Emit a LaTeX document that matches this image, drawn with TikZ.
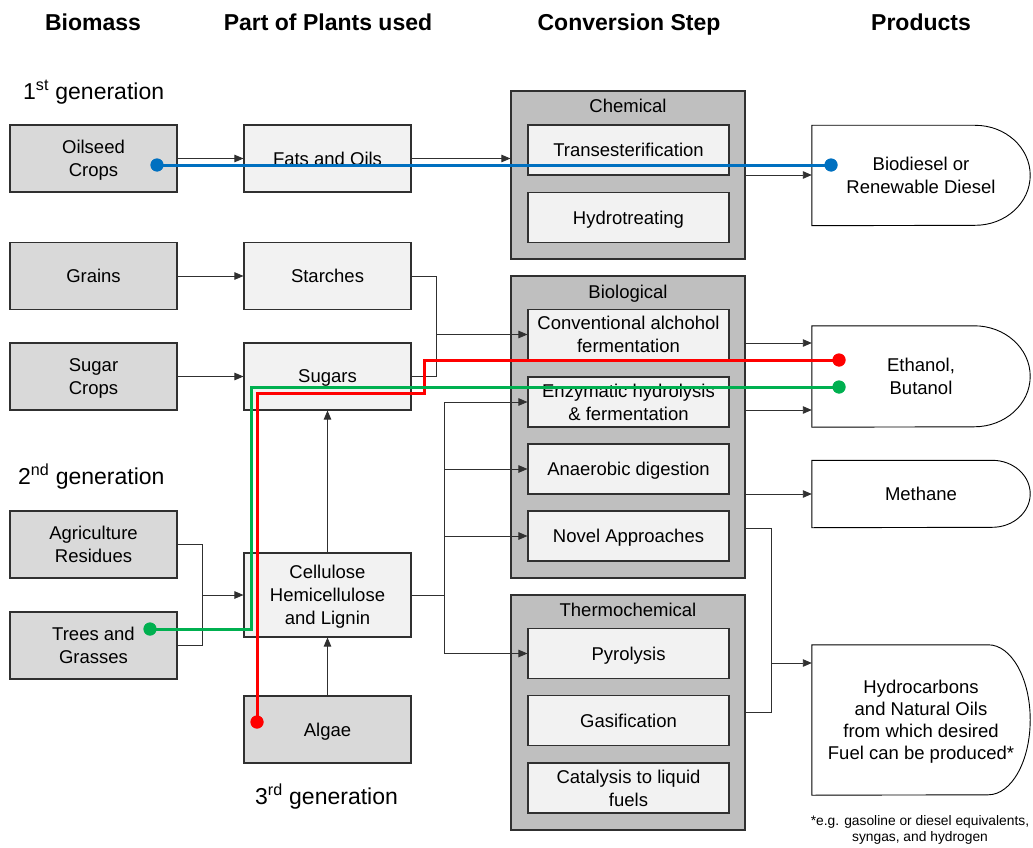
\documentclass[tikz,border=0pt]{standalone}
\usepackage{fontspec}
\setmainfont{Liberation Sans}
\usetikzlibrary{arrows.meta,calc}

\definecolor{bmfill}{HTML}{D9D9D9}
\definecolor{ppfill}{HTML}{F2F2F2}
\definecolor{grpfill}{HTML}{BFBFBF}
\definecolor{edgecol}{HTML}{303030}
\definecolor{wirecol}{HTML}{303030}
\definecolor{pathred}{HTML}{FF0000}
\definecolor{pathgreen}{HTML}{00B050}
\definecolor{pathblue}{HTML}{0070C0}

\newcommand{\boxfont}{\fontsize{18.5}{23}\selectfont}
\newcommand{\headfont}{\fontsize{23}{27}\selectfont\bfseries}
\newcommand{\genfont}{\fontsize{23}{27}\selectfont}
\newcommand{\notefont}{\fontsize{13.8}{16}\selectfont}

\tikzset{
  basebox/.style={draw=edgecol, line width=1.1pt, inner sep=0pt, align=center, font=\boxfont, text depth=0pt},
  biomass/.style={basebox, fill=bmfill, minimum width=167pt, minimum height=67pt},
  plantpart/.style={basebox, fill=ppfill, minimum width=167pt, minimum height=67pt},
  group/.style={draw=edgecol, line width=1.1pt, fill=grpfill, minimum width=234pt, inner sep=0pt},
  stepbox/.style={basebox, fill=ppfill, minimum width=201pt, minimum height=50pt},
  grplabel/.style={font=\boxfont, inner sep=0pt, text depth=0pt},
  heading/.style={font=\headfont, inner sep=0pt, text depth=0pt},
  product/.style={inner sep=0pt, align=center, font=\boxfont, minimum width=218pt, text depth=0pt},
  prodshape/.style={draw=black, line width=0.9pt},
  wire/.style={draw=wirecol, line width=0.9pt},
  conn/.style={wire, -{Triangle[length=9pt,width=7.5pt]}},
  route/.style={line width=3pt},
  dot/.style={circle, fill=#1, minimum size=13pt, inner sep=0pt},
}

\begin{document}
\begin{tikzpicture}[x=1pt, y=-1pt]
\useasboundingbox (0,0) rectangle (1033,848);

% column headings
\node[heading] (hbio)  at (93,22)  {Biomass};
\node[heading] (hpart) at (328,22) {Part of Plants used};
\node[heading] (hconv) at (629,22) {Conversion Step};
\node[heading] (hprod) at (921,22) {Products};

% generation labels
\node[font=\genfont, anchor=west, inner sep=0pt] (gen1) at (23,92)  {1\textsuperscript{st} generation};
\node[font=\genfont, anchor=west, inner sep=0pt] (gen2) at (18,477) {2\textsuperscript{nd} generation};
\node[font=\genfont, anchor=west, inner sep=0pt] (gen3) at (255,797) {3\textsuperscript{rd} generation};

% biomass sources
\node[biomass] (oil)    at (93.5,158.5) {Oilseed\\Crops};
\node[biomass] (grains) at (93.5,276)   {Grains};
\node[biomass] (sugarc) at (93.5,376.5) {Sugar\\Crops};
\node[biomass] (agri)   at (93.5,544.5) {Agriculture\\Residues};
\node[biomass] (trees)  at (93.5,645.5) {Trees and\\Grasses};

% parts of plants
\node[plantpart] (fats)   at (327.5,158.5) {Fats and Oils};
\node[plantpart] (starch) at (327.5,276)   {Starches};
\node[plantpart] (sugars) at (327.5,376.5) {Sugars};
\node[plantpart, minimum height=84pt] (cell) at (327.5,595) {Cellulose\\Hemicellulose\\and Lignin};
\node[biomass]   (algae)  at (327.5,729.5) {Algae};

% conversion groups
\node[group, minimum height=168pt] (chem)   at (628,175)   {};
\node[group, minimum height=302pt] (bio)    at (628,427)   {};
\node[group, minimum height=235pt] (thermo) at (628,712.5) {};
\node[grplabel] (chemlbl)   at (628,106) {Chemical};
\node[grplabel] (biolbl)    at (628,292) {Biological};
\node[grplabel] (thermolbl) at (628,610) {Thermochemical};

% conversion steps
\node[stepbox] (trans) at (628.5,150)   {Transesterification};
\node[stepbox] (hydro) at (628.5,217.5) {Hydrotreating};
\node[stepbox] (conv)  at (628.5,334.5) {Conventional alchohol\\fermentation};
\node[stepbox] (enz)   at (628.5,402)   {Enzymatic hydrolysis\\\& fermentation};
\node[stepbox] (anaer) at (628.5,469)   {Anaerobic digestion};
\node[stepbox] (novel) at (628.5,536)   {Novel Approaches};
\node[stepbox] (pyro)  at (628.5,653.5) {Pyrolysis};
\node[stepbox] (gas)   at (628.5,720.5) {Gasification};
\node[stepbox] (cat)   at (628.5,788)   {Catalysis to liquid\\fuels};

% products
\node[product, minimum height=100pt] (biod)   at (921,175.5) {Biodiesel or\\Renewable Diesel};
\node[product, minimum height=101pt] (eth)    at (921,376.5) {Ethanol,\\Butanol};
\node[product, minimum height=67pt]  (meth)   at (921,494)   {Methane};
\node[product, minimum height=150pt, font={\fontsize{18.5}{22}\selectfont}] (hydroc) at (921,720)
  {Hydrocarbons\\and Natural Oils\\from which desired\\Fuel can be produced*};

\path[prodshape] (biod.north west) -- ($(biod.north east)+(-55,0)$)
  arc[start angle=90, end angle=-90, x radius=55pt, y radius=50pt] -- (biod.south west) -- cycle;
\path[prodshape] (eth.north west) -- ($(eth.north east)+(-56,0)$)
  arc[start angle=90, end angle=-90, x radius=56pt, y radius=50.5pt] -- (eth.south west) -- cycle;
\path[prodshape] (meth.north west) -- ($(meth.north east)+(-38,0)$)
  arc[start angle=90, end angle=-90, x radius=38pt, y radius=33.5pt] -- (meth.south west) -- cycle;
\path[prodshape] (hydroc.north west) -- ($(hydroc.north east)+(-42,0)$)
  arc[start angle=90, end angle=-90, x radius=42pt, y radius=75pt] -- (hydroc.south west) -- cycle;

\node[font=\notefont, align=center, inner sep=0pt] (note) at (920,830)
  {*e.g. gasoline or diesel equivalents,\\syngas, and hydrogen};

% first generation connectors
\draw[conn] (oil.east) -- (fats.west);
\draw[conn] (fats.east) -- (fats.east -| chem.west);
\draw[conn] (chem.east) -- (chem.east -| biod.west);
\draw[conn] (grains.east) -- (starch.west);
\draw[conn] (sugarc.east) -- (sugars.west);

% starches and sugars join into conventional fermentation
\coordinate (jss) at (436,334.5);
\draw[wire] (starch.east) -| (jss);
\draw[wire] (sugars.east) -| (jss);
\draw[conn] (jss) -- (conv.west);

% second and third generation feeds
\coordinate (jat) at (202,595);
\draw[wire] (agri.east) -| (jat);
\draw[wire] (trees.east) -| (jat);
\draw[conn] (jat) -- (cell.west);
\draw[conn] (cell.north) -- (sugars.south);
\draw[conn] (algae.north) -- (cell.south);

% cellulose branches to biological and thermochemical steps
\coordinate (jc) at (444,595);
\draw[wire] (cell.east) -- (jc);
\draw[wire] (jc |- enz.west) -- (jc |- pyro.west);
\draw[conn] (jc |- enz.west) -- (enz.west);
\draw[conn] (jc |- anaer.west) -- (anaer.west);
\draw[conn] (jc |- novel.west) -- (novel.west);
\draw[conn] (jc |- pyro.west) -- (pyro.west);

% outputs of the biological group
\coordinate (e1) at ([yshift=33.5pt]eth.west);
\coordinate (e2) at ([yshift=-33.5pt]eth.west);
\draw[conn] (e1 -| bio.east) -- (e1);
\draw[conn] (e2 -| bio.east) -- (e2);
\draw[conn] (meth.west -| bio.east) -- (meth.west);

% novel approaches and thermochemical to hydrocarbons
\coordinate (ht) at (771,528);
\coordinate (hm) at (771,663);
\draw[wire] (ht -| bio.east) -- (ht) |- (thermo.east);
\draw[conn] (hm) -- (hm -| hydroc.west);

% highlighted routes
\node[dot=pathblue]  (b0) at (157,165) {};
\node[dot=pathblue]  (b1) at (831,165) {};
\node[dot=pathred]   (r0) at (257,722) {};
\node[dot=pathred]   (r1) at (839,360) {};
\node[dot=pathgreen] (g0) at (150,629) {};
\node[dot=pathgreen] (g1) at (839,387) {};
\draw[route, pathblue] (b0.center) -- (b1.center);
\draw[route, pathred] (r0.center) |- (424,393) |- (r1.center);
\draw[route, pathgreen] (g0.center) -| (251,387) -- (g1.center);
\node[dot=pathblue]  at (b0) {};
\node[dot=pathblue]  at (b1) {};
\node[dot=pathred]   at (r0) {};
\node[dot=pathred]   at (r1) {};
\node[dot=pathgreen] at (g0) {};
\node[dot=pathgreen] at (g1) {};
\end{tikzpicture}
\end{document}
